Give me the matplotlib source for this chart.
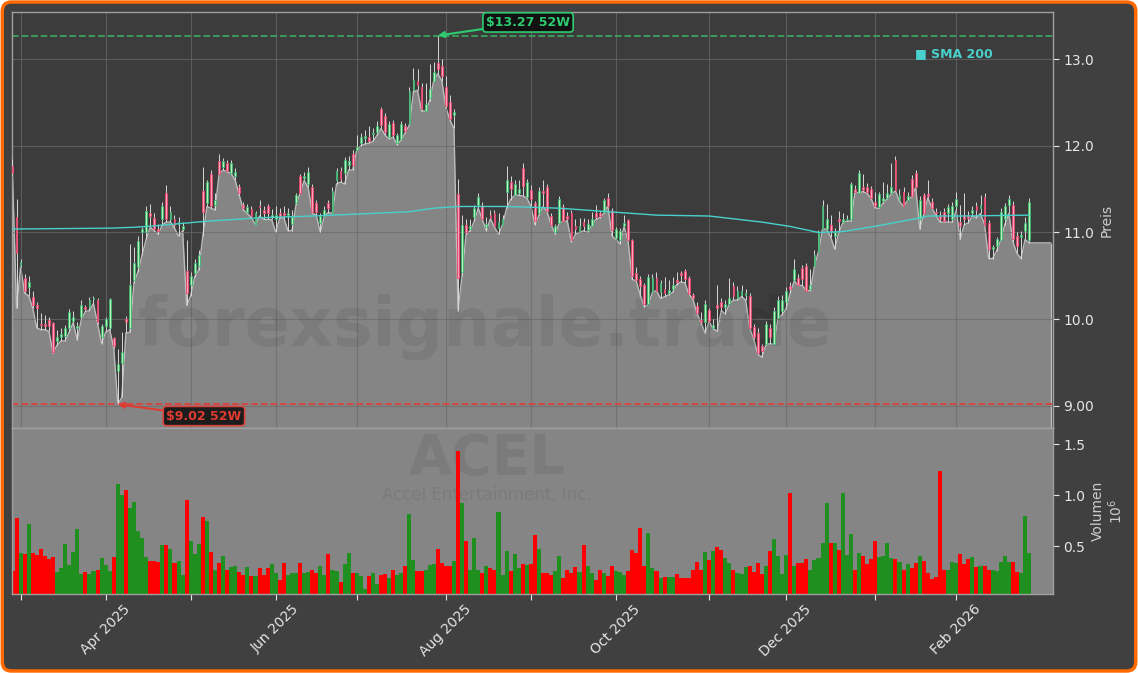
import numpy as np
import pandas as pd
import matplotlib
matplotlib.use("Agg")
import matplotlib.pyplot as plt
from matplotlib.patches import FancyBboxPatch
from matplotlib.ticker import FormatStrFormatter

# Handelstage NYSE 27.02.2025 - 27.02.2026
feiertage = ['2025-04-18', '2025-05-26', '2025-06-19', '2025-07-04', '2025-09-01',
             '2025-11-27', '2025-12-25', '2026-01-01', '2026-01-19', '2026-02-16']
datum = pd.bdate_range('2025-02-27', '2026-02-27', freq='C', holidays=feiertage)

eroeffnung = [
    11.77, 11.18, 10.62, 10.47, 10.37, 10.26, 10.16, 9.95, 9.94, 9.99,
    9.96, 9.75, 9.80, 9.81, 9.90, 9.98, 9.90, 10.03, 10.14, 10.14,
    10.23, 10.22, 9.80, 9.92, 9.90, 9.78, 9.40, 9.50, 10.00, 9.90,
    10.45, 10.60, 11.00, 11.00, 11.23, 11.17, 11.04, 11.15, 11.45, 11.16,
    11.15, 11.10, 11.04, 10.56, 10.40, 10.53, 10.61, 11.48, 11.34, 11.68,
    11.32, 11.82, 11.75, 11.80, 11.69, 11.65, 11.52, 11.32, 11.24, 11.27,
    11.09, 11.31, 11.26, 11.30, 11.18, 11.15, 11.22, 11.22, 11.20, 11.10,
    11.34, 11.65, 11.63, 11.56, 11.53, 11.34, 11.11, 11.19, 11.34, 11.22,
    11.61, 11.71, 11.69, 11.78, 11.91, 11.95, 12.03, 12.09, 12.10, 12.13,
    12.16, 12.42, 12.34, 12.10, 12.26, 12.03, 12.08, 12.23, 12.25, 12.64,
    12.75, 12.68, 12.40, 12.55, 12.75, 12.95, 12.92, 12.68, 12.51, 12.36,
    11.44, 10.55, 11.09, 11.04, 11.18, 11.32, 11.30, 11.06, 11.20, 11.22,
    11.05, 11.09, 11.47, 11.58, 11.43, 11.45, 11.74, 11.41, 11.49, 11.34,
    11.22, 11.48, 11.53, 11.19, 11.00, 11.11, 11.29, 11.19, 11.22, 11.08,
    11.02, 11.12, 11.03, 11.08, 11.22, 11.22, 11.24, 11.40, 11.25, 10.94,
    10.91, 11.08, 11.14, 10.91, 10.53, 10.46, 10.39, 10.18, 10.31, 10.47,
    10.31, 10.35, 10.30, 10.35, 10.45, 10.53, 10.56, 10.48, 10.28, 10.15,
    9.99, 9.97, 10.11, 9.90, 10.16, 10.20, 10.14, 10.18, 10.38, 10.24,
    10.28, 10.28, 10.27, 9.91, 9.84, 9.69, 9.71, 9.90, 9.71, 10.01,
    10.09, 10.20, 10.38, 10.45, 10.47, 10.59, 10.61, 10.35, 10.61, 10.78,
    11.04, 11.04, 11.09, 10.96, 11.15, 11.12, 11.14, 11.15, 11.50, 11.46,
    11.52, 11.52, 11.50, 11.35, 11.29, 11.36, 11.40, 11.45, 11.84, 11.38,
    11.47, 11.38, 11.62, 11.69, 11.15, 11.43, 11.44, 11.35, 11.24, 11.19,
    11.24, 11.22, 11.16, 11.31, 11.12, 11.20, 11.19, 11.22, 11.30, 11.28,
    11.41, 11.11, 10.81, 10.85, 10.91, 11.15, 11.32, 11.32, 10.96, 10.95,
    11.02, 10.91]

hoch = [
    11.85, 11.39, 10.70, 10.52, 10.50, 10.33, 10.20, 10.07, 10.05, 10.03,
    9.97, 9.88, 9.90, 9.93, 10.12, 10.10, 9.97, 10.22, 10.16, 10.26,
    10.27, 10.25, 9.95, 10.03, 10.25, 9.80, 9.66, 9.85, 10.04, 10.87,
    10.83, 10.96, 11.06, 11.30, 11.33, 11.22, 11.10, 11.35, 11.55, 11.30,
    11.20, 11.18, 11.12, 10.91, 10.55, 10.70, 10.80, 11.75, 11.60, 11.72,
    11.45, 11.90, 11.86, 11.84, 11.83, 11.74, 11.56, 11.35, 11.33, 11.30,
    11.25, 11.37, 11.30, 11.33, 11.27, 11.30, 11.28, 11.30, 11.28, 11.26,
    11.46, 11.68, 11.70, 11.75, 11.56, 11.38, 11.23, 11.30, 11.37, 11.52,
    11.74, 11.75, 11.87, 11.88, 11.95, 12.12, 12.15, 12.18, 12.23, 12.20,
    12.28, 12.45, 12.38, 12.28, 12.30, 12.15, 12.28, 12.26, 12.68, 12.90,
    12.88, 12.72, 12.72, 12.94, 12.96, 13.27, 13.00, 12.80, 12.58, 12.42,
    11.62, 11.20, 11.15, 11.15, 11.32, 11.45, 11.35, 11.18, 11.26, 11.26,
    11.22, 11.20, 11.77, 11.65, 11.60, 11.60, 11.80, 11.62, 11.55, 11.36,
    11.52, 11.60, 11.56, 11.22, 11.10, 11.42, 11.33, 11.24, 11.26, 11.15,
    11.17, 11.17, 11.15, 11.24, 11.32, 11.25, 11.40, 11.45, 11.28, 11.06,
    11.05, 11.20, 11.16, 10.93, 10.60, 10.50, 10.42, 10.52, 10.52, 10.55,
    10.45, 10.49, 10.45, 10.49, 10.55, 10.56, 10.58, 10.50, 10.30, 10.20,
    10.08, 10.22, 10.13, 10.00, 10.40, 10.25, 10.22, 10.48, 10.43, 10.38,
    10.40, 10.35, 10.30, 9.95, 9.90, 9.72, 9.98, 9.95, 10.14, 10.27,
    10.28, 10.37, 10.43, 10.70, 10.52, 10.62, 10.65, 10.58, 10.80, 11.03,
    11.37, 11.33, 11.20, 11.05, 11.25, 11.22, 11.20, 11.58, 11.55, 11.72,
    11.67, 11.57, 11.54, 11.47, 11.47, 11.58, 11.56, 11.80, 11.88, 11.50,
    11.52, 11.47, 11.66, 11.72, 11.42, 11.46, 11.60, 11.40, 11.28, 11.25,
    11.28, 11.33, 11.35, 11.47, 11.32, 11.45, 11.25, 11.30, 11.35, 11.43,
    11.46, 11.14, 10.86, 10.95, 11.28, 11.34, 11.43, 11.36, 11.00, 11.02,
    11.18, 11.40]

tief = [
    11.66, 10.13, 10.60, 10.30, 10.27, 10.13, 9.90, 9.88, 9.88, 9.86,
    9.61, 9.70, 9.75, 9.75, 9.85, 9.96, 9.76, 10.00, 10.09, 10.10,
    10.18, 9.95, 9.72, 9.85, 9.88, 9.67, 9.02, 9.10, 9.84, 9.85,
    10.42, 10.55, 10.74, 10.92, 11.06, 11.02, 10.98, 11.09, 11.12, 11.12,
    11.05, 10.96, 11.02, 10.16, 10.27, 10.49, 10.57, 10.96, 11.30, 11.28,
    11.26, 11.67, 11.72, 11.70, 11.68, 11.60, 11.43, 11.26, 11.22, 11.17,
    11.09, 11.19, 11.15, 11.15, 11.15, 11.00, 11.17, 11.17, 11.02, 11.02,
    11.32, 11.45, 11.60, 11.52, 11.22, 11.20, 11.00, 11.19, 11.23, 11.22,
    11.56, 11.58, 11.56, 11.72, 11.72, 11.95, 12.00, 12.02, 12.03, 12.05,
    12.12, 12.20, 12.12, 12.08, 12.10, 12.01, 12.07, 12.15, 12.24, 12.62,
    12.64, 12.40, 12.40, 12.52, 12.75, 12.83, 12.75, 12.44, 12.30, 12.20,
    10.10, 10.50, 10.98, 11.02, 11.13, 11.28, 11.15, 11.02, 11.16, 11.06,
    10.98, 11.09, 11.28, 11.38, 11.43, 11.43, 11.42, 11.40, 11.30, 11.09,
    11.20, 11.30, 11.24, 11.09, 10.98, 11.11, 11.13, 11.13, 10.89, 10.98,
    11.00, 11.02, 11.00, 11.08, 11.15, 11.17, 11.22, 11.31, 10.96, 10.92,
    10.87, 11.07, 10.90, 10.46, 10.44, 10.28, 10.14, 10.17, 10.31, 10.33,
    10.24, 10.26, 10.28, 10.31, 10.40, 10.43, 10.42, 10.29, 10.23, 10.07,
    9.96, 9.84, 9.97, 9.89, 9.86, 10.10, 10.06, 10.18, 10.22, 10.22,
    10.26, 10.22, 9.90, 9.77, 9.60, 9.56, 9.70, 9.72, 9.71, 10.01,
    10.05, 10.12, 10.30, 10.44, 10.39, 10.39, 10.33, 10.33, 10.61, 10.78,
    11.04, 11.04, 10.95, 10.81, 11.00, 11.11, 11.13, 11.13, 11.46, 11.46,
    11.47, 11.45, 11.39, 11.28, 11.28, 11.34, 11.39, 11.44, 11.48, 11.36,
    11.30, 11.37, 11.41, 11.52, 11.04, 11.21, 11.40, 11.28, 11.20, 11.12,
    11.12, 11.12, 11.12, 11.25, 10.92, 11.09, 11.11, 11.19, 11.17, 11.22,
    11.09, 10.70, 10.70, 10.79, 10.91, 11.09, 11.22, 10.89, 10.76, 10.70,
    10.92, 10.88]

schluss = [
    11.69, 10.76, 10.66, 10.33, 10.43, 10.16, 10.13, 9.93, 9.92, 9.92,
    9.62, 9.80, 9.83, 9.90, 10.08, 10.02, 9.92, 10.16, 10.12, 10.22,
    10.24, 9.97, 9.92, 10.00, 10.23, 9.69, 9.48, 9.62, 9.97, 10.40,
    10.65, 10.90, 11.04, 11.25, 11.19, 11.04, 11.02, 11.30, 11.15, 11.24,
    11.09, 11.12, 11.08, 10.30, 10.50, 10.65, 10.74, 11.24, 11.58, 11.30,
    11.38, 11.67, 11.82, 11.71, 11.80, 11.70, 11.45, 11.28, 11.29, 11.19,
    11.22, 11.29, 11.22, 11.22, 11.20, 11.20, 11.19, 11.20, 11.22, 11.18,
    11.43, 11.45, 11.65, 11.70, 11.24, 11.24, 11.19, 11.26, 11.28, 11.48,
    11.71, 11.62, 11.83, 11.82, 11.78, 11.99, 12.10, 12.11, 12.06, 12.15,
    12.23, 12.24, 12.16, 12.25, 12.12, 12.12, 12.25, 12.17, 12.63, 12.76,
    12.70, 12.42, 12.48, 12.65, 12.85, 12.88, 12.80, 12.46, 12.31, 12.39,
    10.48, 11.09, 11.01, 11.08, 11.28, 11.41, 11.15, 11.10, 11.17, 11.07,
    11.12, 11.15, 11.60, 11.50, 11.56, 11.50, 11.54, 11.58, 11.39, 11.13,
    11.48, 11.45, 11.25, 11.09, 11.08, 11.39, 11.13, 11.16, 10.91, 11.04,
    11.08, 11.08, 11.10, 11.15, 11.18, 11.19, 11.37, 11.31, 11.03, 11.04,
    11.02, 11.11, 10.91, 10.50, 10.45, 10.38, 10.18, 10.49, 10.48, 10.33,
    10.42, 10.30, 10.34, 10.40, 10.43, 10.51, 10.46, 10.29, 10.24, 10.07,
    9.97, 10.18, 9.98, 9.93, 10.13, 10.14, 10.17, 10.24, 10.27, 10.33,
    10.32, 10.30, 9.90, 9.79, 9.61, 9.63, 9.94, 9.79, 10.10, 10.22,
    10.22, 10.33, 10.35, 10.58, 10.40, 10.46, 10.33, 10.40, 10.74, 11.00,
    11.30, 11.15, 11.02, 11.00, 11.13, 11.16, 11.16, 11.56, 11.47, 11.69,
    11.49, 11.47, 11.40, 11.30, 11.44, 11.40, 11.46, 11.52, 11.49, 11.43,
    11.30, 11.42, 11.42, 11.53, 11.38, 11.22, 11.42, 11.28, 11.22, 11.16,
    11.13, 11.29, 11.31, 11.39, 11.08, 11.16, 11.17, 11.26, 11.26, 11.32,
    11.09, 10.81, 10.83, 10.92, 11.24, 11.30, 11.39, 10.93, 10.85, 10.97,
    11.11, 11.35]

# Volumen in Mio. Stueck
volumen = [
    0.26, 0.77, 0.43, 0.42, 0.72, 0.43, 0.41, 0.47, 0.40, 0.37,
    0.39, 0.25, 0.28, 0.52, 0.31, 0.44, 0.67, 0.23, 0.25, 0.23,
    0.26, 0.27, 0.38, 0.31, 0.26, 0.39, 1.11, 1.00, 1.05, 0.87,
    0.93, 0.65, 0.58, 0.39, 0.35, 0.35, 0.34, 0.51, 0.51, 0.47,
    0.33, 0.35, 0.22, 0.95, 0.55, 0.42, 0.52, 0.78, 0.75, 0.44,
    0.27, 0.33, 0.40, 0.27, 0.29, 0.30, 0.25, 0.22, 0.29, 0.21,
    0.21, 0.28, 0.22, 0.28, 0.32, 0.24, 0.17, 0.33, 0.22, 0.24,
    0.24, 0.33, 0.24, 0.25, 0.27, 0.24, 0.30, 0.22, 0.42, 0.27,
    0.26, 0.15, 0.32, 0.43, 0.24, 0.24, 0.21, 0.08, 0.21, 0.24,
    0.13, 0.22, 0.23, 0.19, 0.27, 0.22, 0.24, 0.30, 0.81, 0.36,
    0.26, 0.26, 0.27, 0.31, 0.32, 0.47, 0.33, 0.30, 0.30, 0.35,
    1.43, 0.92, 0.55, 0.27, 0.58, 0.27, 0.24, 0.30, 0.28, 0.27,
    0.83, 0.22, 0.45, 0.26, 0.42, 0.28, 0.32, 0.31, 0.32, 0.61,
    0.47, 0.24, 0.24, 0.22, 0.26, 0.40, 0.19, 0.27, 0.24, 0.29,
    0.25, 0.51, 0.30, 0.24, 0.17, 0.27, 0.24, 0.21, 0.30, 0.26,
    0.25, 0.22, 0.26, 0.46, 0.43, 0.68, 0.30, 0.63, 0.28, 0.26,
    0.19, 0.20, 0.20, 0.20, 0.23, 0.19, 0.19, 0.19, 0.27, 0.34,
    0.27, 0.44, 0.36, 0.45, 0.49, 0.46, 0.38, 0.33, 0.27, 0.24,
    0.23, 0.29, 0.30, 0.25, 0.33, 0.23, 0.30, 0.45, 0.57, 0.40,
    0.23, 0.41, 1.02, 0.30, 0.33, 0.33, 0.37, 0.27, 0.36, 0.38,
    0.53, 0.92, 0.53, 0.53, 0.46, 1.02, 0.41, 0.62, 0.27, 0.43,
    0.40, 0.32, 0.37, 0.55, 0.39, 0.40, 0.53, 0.38, 0.37, 0.34,
    0.27, 0.32, 0.28, 0.33, 0.40, 0.35, 0.24, 0.18, 0.20, 1.24,
    0.27, 0.27, 0.34, 0.33, 0.42, 0.32, 0.37, 0.39, 0.29, 0.30,
    0.30, 0.27, 0.27, 0.26, 0.34, 0.40, 0.34, 0.34, 0.25, 0.24,
    0.79, 0.43]

sma_tag = [0, 24, 30, 36, 48, 61, 74, 89, 98, 104, 110, 122, 135, 147,
           159, 172, 185, 192, 199, 205, 214, 222, 226, 234, 251]
sma_wert = [11.04, 11.05, 11.06, 11.08, 11.13, 11.17, 11.19, 11.22, 11.24, 11.28,
            11.30, 11.30, 11.28, 11.24, 11.20, 11.19, 11.12, 11.07, 11.00, 11.01,
            11.08, 11.15, 11.19, 11.19, 11.20]

hoch_52w = 13.27
tief_52w = 9.02

o = np.array(eroeffnung)
h = np.array(hoch)
l = np.array(tief)
c = np.array(schluss)
v = np.array(volumen)
x = np.arange(len(c))
steigend = c >= o

W, H = 1138, 673
fig = plt.figure(figsize=(W / 100, H / 100), dpi=100, facecolor='white')
rahmen = FancyBboxPatch((0.002, 0.003), 0.996, 0.994,
                        boxstyle='round,pad=0,rounding_size=0.008',
                        mutation_aspect=W / H, transform=fig.transFigure,
                        fc='#404040', ec='#ff6a00', lw=2.5, zorder=-10)
fig.add_artist(rahmen)

ax = fig.add_axes([12 / W, 1 - 428 / H, 1041 / W, 416 / H])
axv = fig.add_axes([12 / W, 1 - 594 / H, 1041 / W, 166 / H], sharex=ax)
ax.set_facecolor('#3c3c3c')
axv.set_facecolor('#858585')
for a in (ax, axv):
    for s in a.spines.values():
        s.set_color('#a0a0a0')
        s.set_linewidth(1)

# Flaeche unter dem Tiefkurs, nach rechts verlaengert
x_flaeche = np.append(x, len(x) + 4.3)
l_flaeche = np.append(l, l[-1])
ax.fill_between(x_flaeche, l_flaeche, 8.0, color='#858585', lw=0, zorder=1)
ax.plot(x_flaeche, l_flaeche, color='#bcbcbc', lw=1, zorder=1.2)
ax.vlines(x_flaeche[-1], 8.0, l_flaeche[-1], color='#bcbcbc', lw=1, zorder=1.2)

# Wasserzeichen
ax.text(0.426, 0.514, 'forexsignale.trade', transform=fig.transFigure, fontsize=48,
        fontweight='bold', color='black', alpha=0.07, ha='center', va='center', zorder=1.6)
axv.text(0.428, 0.318, 'ACEL', transform=fig.transFigure, fontsize=40,
         fontweight='bold', color='black', alpha=0.07, ha='center', va='center', zorder=0.5)
axv.text(0.428, 0.264, 'Accel Entertainment, Inc.', transform=fig.transFigure, fontsize=12,
         color='black', alpha=0.07, ha='center', va='center', zorder=0.5)

# Kerzen
ax.vlines(x, l, h, color='#d8d8d8', lw=0.7, zorder=3)
ax.bar(x[steigend], (c - o)[steigend], bottom=o[steigend], width=0.45,
       color='#b4f5b4', edgecolor='#3cb371', lw=0.6, zorder=4)
ax.bar(x[~steigend], (o - c)[~steigend], bottom=c[~steigend], width=0.45,
       color='#ffa3b8', edgecolor='#e8456c', lw=0.6, zorder=4)

ax.plot(sma_tag, sma_wert, color='#48d1cc', lw=1, zorder=5)

ax.axhline(hoch_52w, color='#3aa35f', ls='--', lw=1.3, zorder=2)
ax.axhline(tief_52w, color='#d9443c', ls='--', lw=1.3, zorder=2)
i_hoch = int(np.argmax(h))
i_tief = int(np.argmin(l))
ax.annotate(f'${hoch_52w:.2f} 52W', xy=(i_hoch, hoch_52w), xytext=(65, 9.5),
            textcoords='offset points', ha='center', va='center', fontsize=9,
            fontweight='bold', color='#2ecc71', zorder=6,
            bbox=dict(boxstyle='round,pad=0.25', fc='#111111', ec='#2ecc71', lw=1.2),
            arrowprops=dict(arrowstyle='-|>', color='#2ecc71', lw=1.5,
                            shrinkA=0, shrinkB=0, mutation_scale=9))
ax.annotate(f'${tief_52w:.2f} 52W', xy=(i_tief, tief_52w), xytext=(62, -8.5),
            textcoords='offset points', ha='center', va='center', fontsize=9,
            fontweight='bold', color='#e03c31', zorder=6,
            bbox=dict(boxstyle='round,pad=0.25', fc='#1c1c1c', ec='#d9443c', lw=1.2),
            arrowprops=dict(arrowstyle='-|>', color='#e03c31', lw=1.5,
                            shrinkA=0, shrinkB=0, mutation_scale=9))

ax.text(0.867, 0.899, '\u25a0 SMA 200', transform=ax.transAxes, fontsize=9,
        fontweight='bold', color='#48d1cc', va='center', zorder=6)

# Volumen
axv.bar(x, v, width=1.0, color=np.where(steigend, '#1f8f1f', '#ff0000'), lw=0, zorder=1)

# Achsen
ax.set_xlim(-0.12, 256.9)
ax.set_ylim(8.746, 13.542)
axv.set_ylim(0.03, 1.657)

idx = pd.Series(np.arange(len(datum)), index=datum)
monatsanfang = [i for i in idx.groupby([datum.year, datum.month]).first().values
                if datum[i].day <= 5]
beschriftung = [datum[i].strftime('%b %Y') if datum[i].month % 2 == 0 else ''
                for i in monatsanfang]
axv.set_xticks(monatsanfang)
axv.set_xticklabels(beschriftung, rotation=45, ha='center')

ax.grid(True, color='#6a6a6a', lw=0.8, alpha=0.7)
ax.tick_params(axis='x', which='both', length=0, labelbottom=False)
axv.tick_params(axis='x', colors='#e6e6e6', labelsize=10, length=4, pad=2)

ax.yaxis.tick_right()
ax.yaxis.set_label_position('right')
ax.set_yticks([9, 10, 11, 12, 13])
ax.yaxis.set_major_formatter(FormatStrFormatter('%#.3g'))
ax.tick_params(axis='y', colors='#e6e6e6', labelsize=10, length=4)
ax.set_ylabel('Preis', color='#cccccc', fontsize=10)

axv.yaxis.tick_right()
axv.yaxis.set_label_position('right')
axv.set_yticks([0.5, 1.0, 1.5])
axv.yaxis.set_major_formatter(FormatStrFormatter('%.1f'))
axv.tick_params(axis='y', colors='#e6e6e6', labelsize=10, length=4)
axv.set_ylabel('Volumen\n$10^6$', color='#cccccc', fontsize=10, linespacing=1.1)

fig.savefig('out.png', dpi=100, facecolor=fig.get_facecolor())
